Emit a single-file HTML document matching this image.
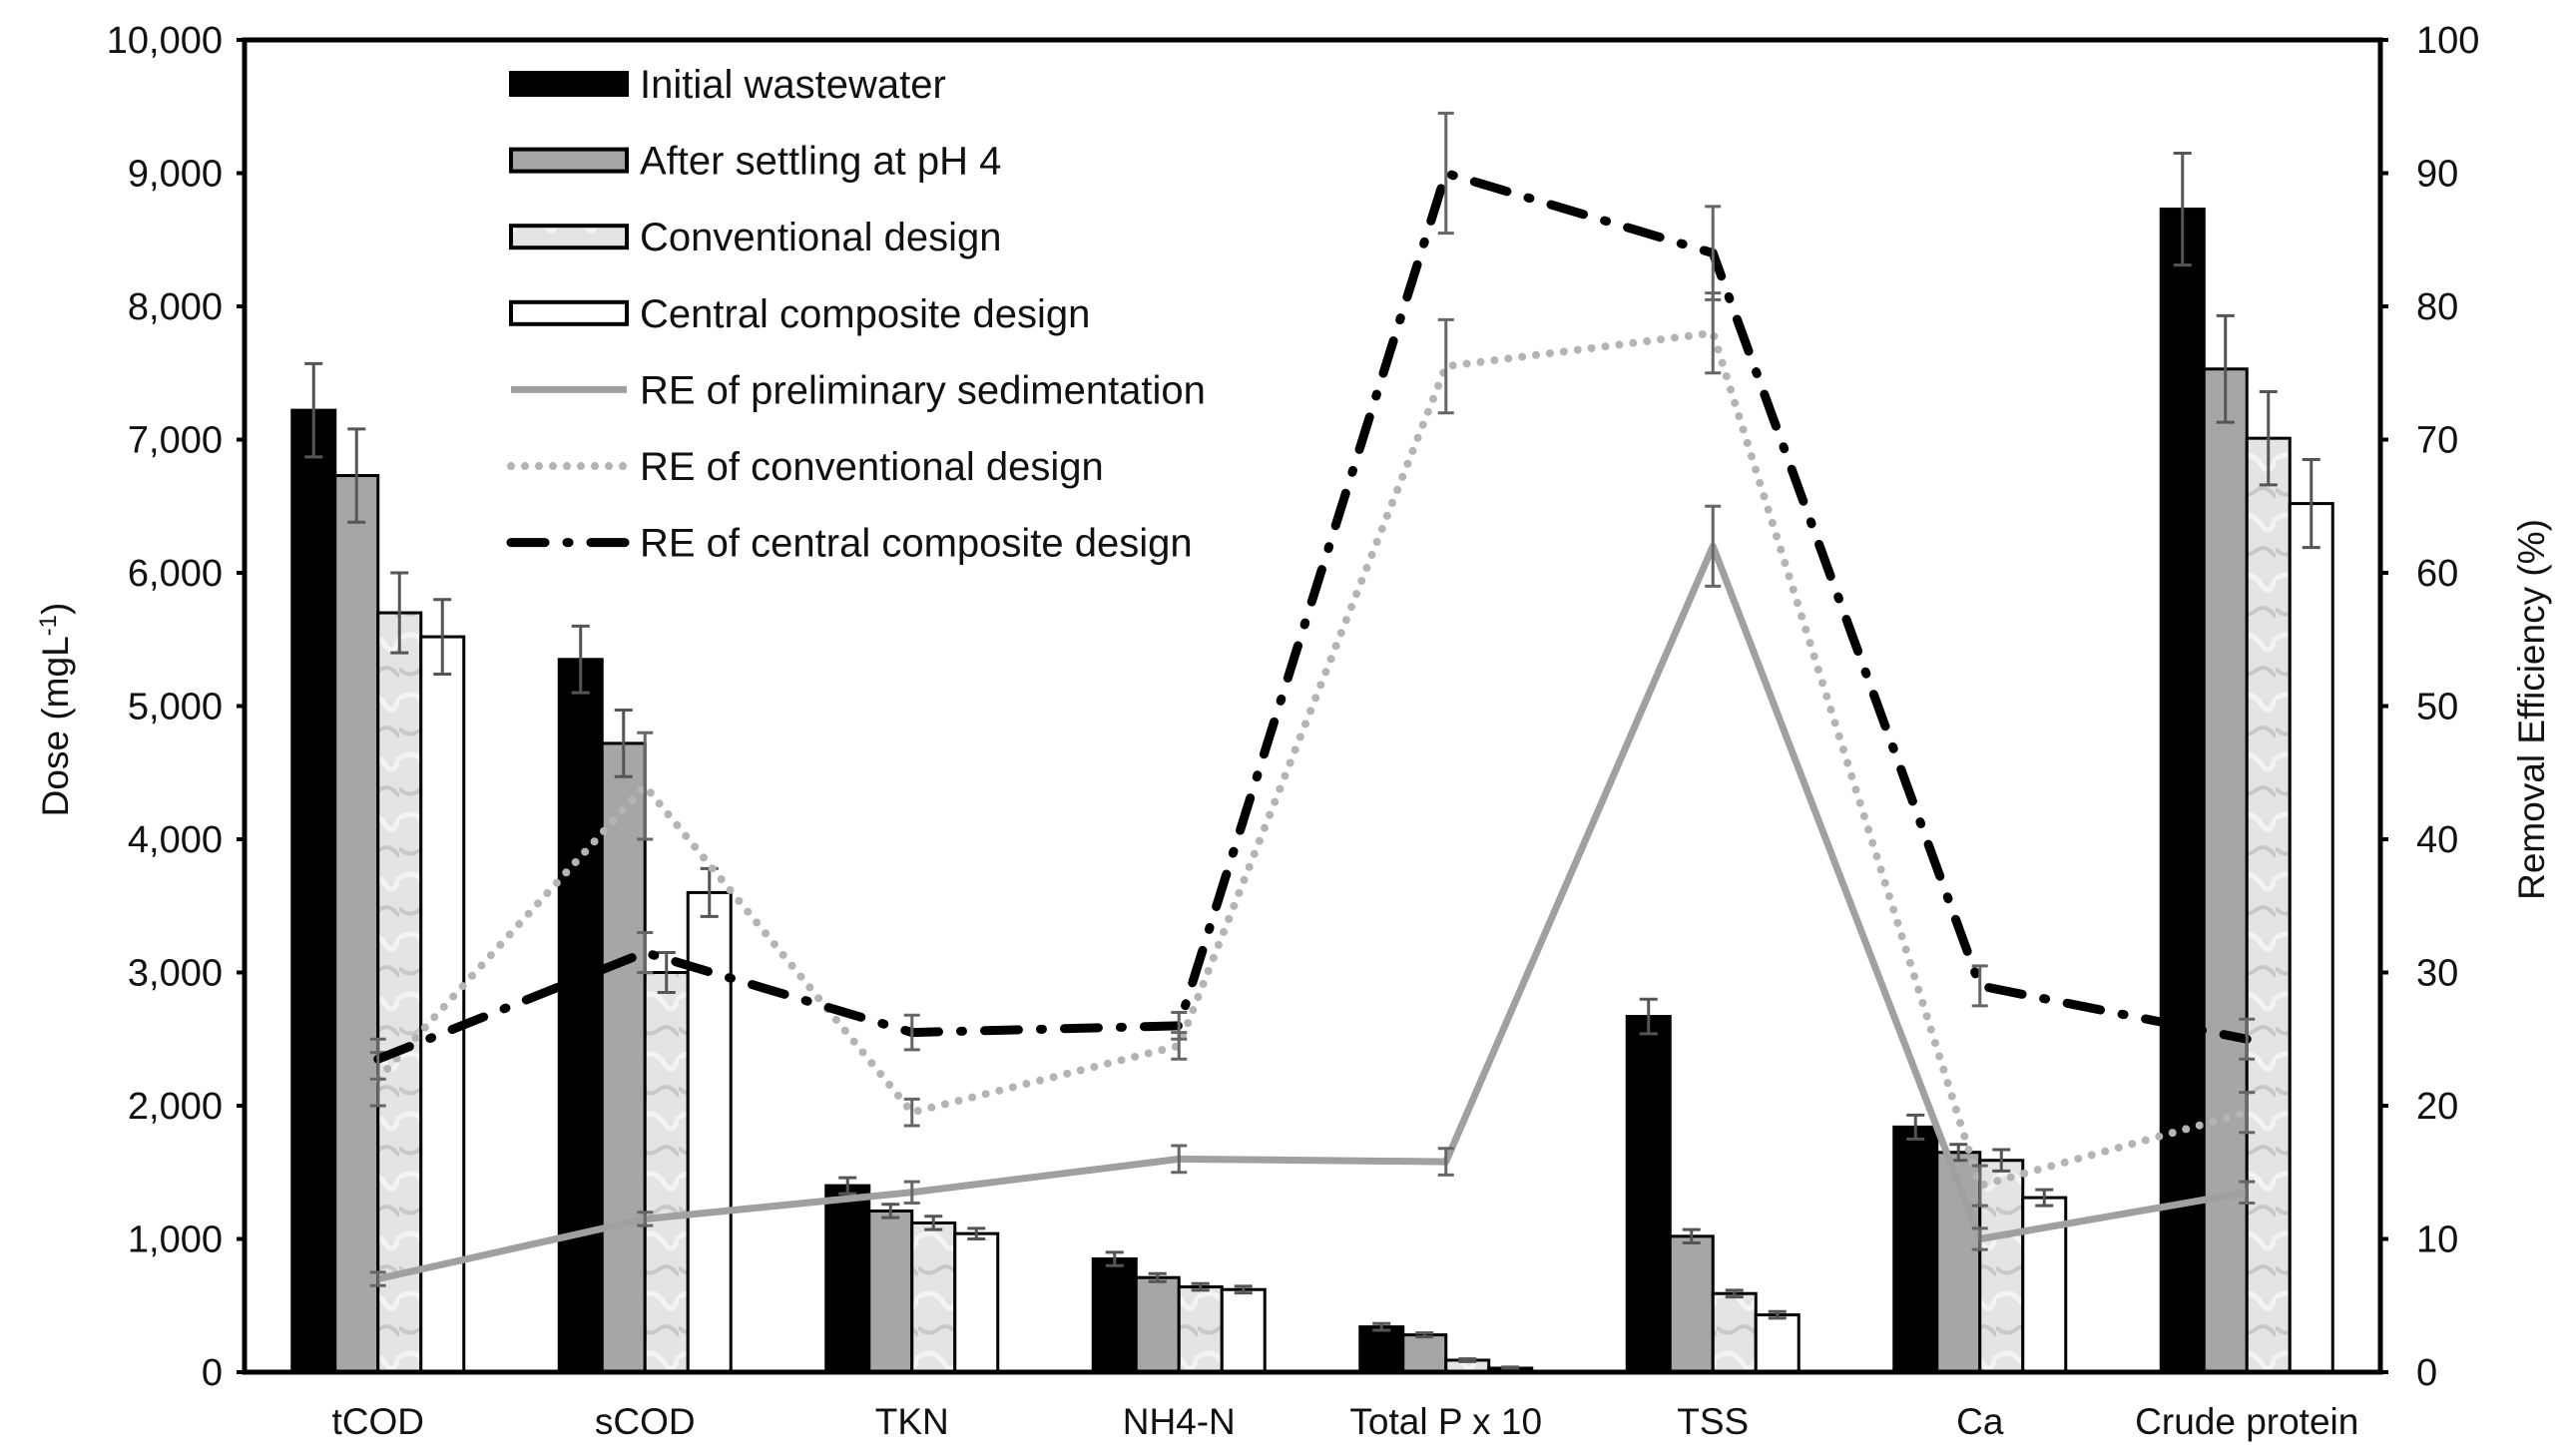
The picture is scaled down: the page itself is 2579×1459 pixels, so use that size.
<!DOCTYPE html>
<html><head><meta charset="utf-8"><style>
html,body{margin:0;padding:0;background:#fff}
svg{display:block;font-family:"Liberation Sans",Arial,sans-serif}
</style></head><body>
<svg id="chart" width="2579" height="1459" viewBox="0 0 2579 1459" xmlns="http://www.w3.org/2000/svg">
<defs>
<pattern id="marble" width="40" height="60" patternUnits="userSpaceOnUse">
<rect width="40" height="60" fill="#e4e4e4"/>
<path d="M0 10 Q10 20 20 12 T40 18" stroke="#c8c8c8" stroke-width="4" fill="none"/>
<path d="M0 40 Q15 30 25 45 T40 38" stroke="#f4f4f4" stroke-width="5" fill="none"/>
</pattern>
</defs>
<g id="plot"></g>
</svg>
<script>
const categories=["tCOD","sCOD","TKN","NH4-N","Total P x 10","TSS","Ca","Crude protein"];
const initialWW=[7220,5350,1400,850,340,2670,1840,8730];
const initialErr=[350,250,60,50,25,130,90,420];
const afterSettling=[6730,4720,1210,710,280,1020,1650,7530];
const afterErr=[350,250,50,30,15,50,60,400];
const conventional=[5700,3000,1120,640,90,590,1590,7010];
const convErr=[300,150,50,25,10,25,80,350];
const ccd=[5520,3600,1040,620,30,430,1310,6520];
const ccdErr=[280,180,40,25,8,25,60,330];
const reSed=[7,11.5,13.5,16,15.8,62,10,13.5];
const reSedErr=[0.5,0.5,0.8,1,1,3,0.8,0.8];
const reConv=[22,44,19.5,24.5,75.5,78,14,19.5];
const reConvErr=[2,4,1,1,3.5,3,1.5,1.5];
const reCcd=[23.5,31.5,25.5,26,90,84,29,25];
const reCcdErr=[1.5,1.5,1.3,1,4.5,3.5,1.5,1.5];
const leftTicks=[0,1000,2000,3000,4000,5000,6000,7000,8000,9000,10000];
const rightTicks=[0,10,20,30,40,50,60,70,80,90,100];

const NS="http://www.w3.org/2000/svg";
const g=document.getElementById('plot');
const L=245,R=2385,T=40,B=1375;
const yL=v=>B-(v/10000)*(B-T);
const yR=v=>B-(v/100)*(B-T);
const step=(R-L)/categories.length;
const xC=i=>L+step*(i+0.5);
const BW=43;
function mk(tag,attrs,parent){const e=document.createElementNS(NS,tag);for(const k in attrs)e.setAttribute(k,attrs[k]);(parent||g).appendChild(e);return e;}
function fmt(v){return v.toLocaleString('en-US');}

const series=[
 {vals:initialWW,err:initialErr,fill:"#000",name:"bar-initial-wastewater"},
 {vals:afterSettling,err:afterErr,fill:"#a6a6a6",name:"bar-after-settling"},
 {vals:conventional,err:convErr,fill:"url(#marble)",name:"bar-conventional-design"},
 {vals:ccd,err:ccdErr,fill:"#fff",name:"bar-central-composite-design"}];
function errBar(x,y1,y2,color,w){
 const e=mk('path',{d:`M${x} ${y1}V${y2}M${x-w} ${y1}H${x+w}M${x-w} ${y2}H${x+w}`,stroke:color,'stroke-width':3,fill:'none'});
 
 
}
series.forEach((s,si)=>{
 s.vals.forEach((v,i)=>{
  const x=xC(i)-2*BW+si*BW;
  const r=mk('rect',{x:x,y:yL(v),width:BW,height:B-yL(v),fill:s.fill,stroke:'#000','stroke-width':3});
  
  
  errBar(x+BW/2,yL(v+s.err[i]),yL(v-s.err[i]),'#555',9);
 });
});
const lines=[
 {vals:reSed,err:reSedErr,stroke:'#a0a0a0',dash:'',w:7,cap:'butt',name:'line-re-sedimentation'},
 {vals:reConv,err:reConvErr,stroke:'#b4b4b4',dash:'0 14',w:8,cap:'round',name:'line-re-conventional'},
 {vals:reCcd,err:reCcdErr,stroke:'#000',dash:'34 22 2 22',w:9,cap:'round',name:'line-re-ccd'}];
lines.forEach(l=>{
 const d=l.vals.map((v,i)=>(i?'L':'M')+xC(i)+' '+yR(v)).join('');
 const p=mk('path',{d:d,stroke:l.stroke,'stroke-width':l.w,fill:'none','stroke-dasharray':l.dash,'stroke-linecap':l.cap,'stroke-linejoin':'round'});
 
 
 l.vals.forEach((v,i)=>errBar(xC(i),yR(v+l.err[i]),yR(v-l.err[i]),'#666',8));
});
const ax=mk('path',{d:`M${L} ${T}H${R}V${B}H${L}Z`,stroke:'#000','stroke-width':5,fill:'none'});


leftTicks.forEach(v=>{
 mk('path',{d:`M${L-8} ${yL(v)}H${L}`,stroke:'#000','stroke-width':4});
 const t=mk('text',{x:L-22,y:yL(v)+13,'text-anchor':'end','font-size':38,fill:'#111'});
 t.textContent=fmt(v);
 
 
});
rightTicks.forEach(v=>{
 mk('path',{d:`M${R} ${yR(v)}H${R+8}`,stroke:'#000','stroke-width':4});
 const t=mk('text',{x:R+36,y:yR(v)+13,'text-anchor':'start','font-size':38,fill:'#111'});
 t.textContent=v;
 
 
});
categories.forEach((c,i)=>{
 const t=mk('text',{x:xC(i),y:1437,'text-anchor':'middle','font-size':37,fill:'#111'});
 t.textContent=c;
 
 
});
let yt=mk('text',{transform:'translate(68,711) rotate(-90)','text-anchor':'middle','font-size':37,fill:'#111'});
yt.innerHTML='Dose (mgL<tspan dy="-12" font-size="24">-1</tspan><tspan dy="12">)</tspan>';


yt=mk('text',{transform:'translate(2549,711) rotate(-90)','text-anchor':'middle','font-size':37,fill:'#111'});
yt.textContent='Removal Efficiency (%)';


const leg=[["Initial wastewater","rect","#000"],["After settling at pH 4","rect","#a6a6a6"],["Conventional design","rect","url(#marble)"],["Central composite design","rect","#fff"],["RE of preliminary sedimentation","line",0],["RE of conventional design","line",1],["RE of central composite design","line",2]];
leg.forEach((e,i)=>{
 const y=84+i*76.6;
 const grp=mk('g',{});
 
 
 if(e[1]==='rect') mk('rect',{x:512,y:y-11,width:116,height:22,fill:e[2],stroke:'#000','stroke-width':4},grp);
 else {const l=lines[e[2]];mk('path',{d:`M512 ${y}H628`,stroke:l.stroke,'stroke-width':l.w,'stroke-dasharray':l.dash,'stroke-linecap':l.cap,fill:'none'},grp);}
 const t=mk('text',{x:641,y:y+14,'font-size':40,fill:'#111'},grp);
 t.textContent=e[0];
});
</script>
</body></html>
